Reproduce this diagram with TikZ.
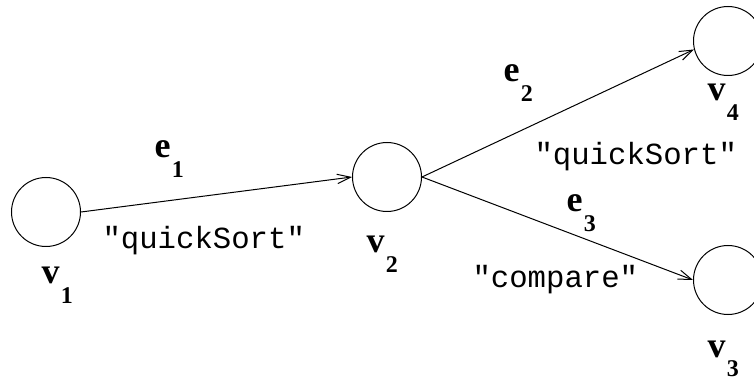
\documentclass[tikz,border=0pt]{standalone}
\usepackage{fontspec}
\setmainfont{Liberation Serif}
\setmonofont{Liberation Mono}
\usetikzlibrary{arrows.meta}

\newcommand{\sublabel}[2]{\textbf{#1}\kern1pt\raisebox{-14.5pt}{\fontsize{18}{18}\selectfont\textbf{#2}}}

\tikzset{every picture/.style={line width=0.75pt}}
\tikzset{
  vertex/.style={draw, circle, minimum size=51.75pt, inner sep=0pt},
  edge/.style={-{Straight Barb[length=10pt,width=7pt]}},
  namelabel/.style={anchor=base west, inner sep=0pt, font=\fontsize{27}{27}\selectfont},
  calllabel/.style={anchor=base west, inner sep=0pt, font=\ttfamily\fontsize{23}{23}\selectfont}
}

\begin{document}
\begin{tikzpicture}[x=0.75pt,y=0.75pt,yscale=-1,xscale=1]
\useasboundingbox (0,0) rectangle (754,381);

%Shape: Circle [id:v1]
\node[vertex] (v1) at (46,212) {};
%Shape: Circle [id:v2]
\node[vertex] (v2) at (387,177) {};
%Shape: Circle [id:v4]
\node[vertex] (v4) at (728,41) {};
%Shape: Circle [id:v3]
\node[vertex] (v3) at (728,280) {};

%Straight Lines [id:e1]
\draw[edge] (v1.east) -- (v2.west);
%Straight Lines [id:e2]
\draw[edge] (v2.east) -- (v4.194);
%Straight Lines [id:e3]
\draw[edge] (v2.east) -- (v3.west);

% Text Node
\node[namelabel] (lv1) at (41,284) {\sublabel{v}{1}};
\node[namelabel] (lv2) at (366,253) {\sublabel{v}{2}};
\node[namelabel] (lv4) at (707,101) {\sublabel{v}{4}};
\node[namelabel] (lv3) at (707,357) {\sublabel{v}{3}};
\node[namelabel] (le1) at (154,158) {\sublabel{e}{1}};
\node[namelabel] (le2) at (503,82) {\sublabel{e}{2}};
\node[namelabel] (le3) at (566,212) {\sublabel{e}{3}};
% Text Node
\node[calllabel] (c1) at (102,249) {"quickSort"};
\node[calllabel] (c2) at (534,165) {"quickSort"};
\node[calllabel] (c3) at (472,288) {"compare"};

\end{tikzpicture}
\end{document}
